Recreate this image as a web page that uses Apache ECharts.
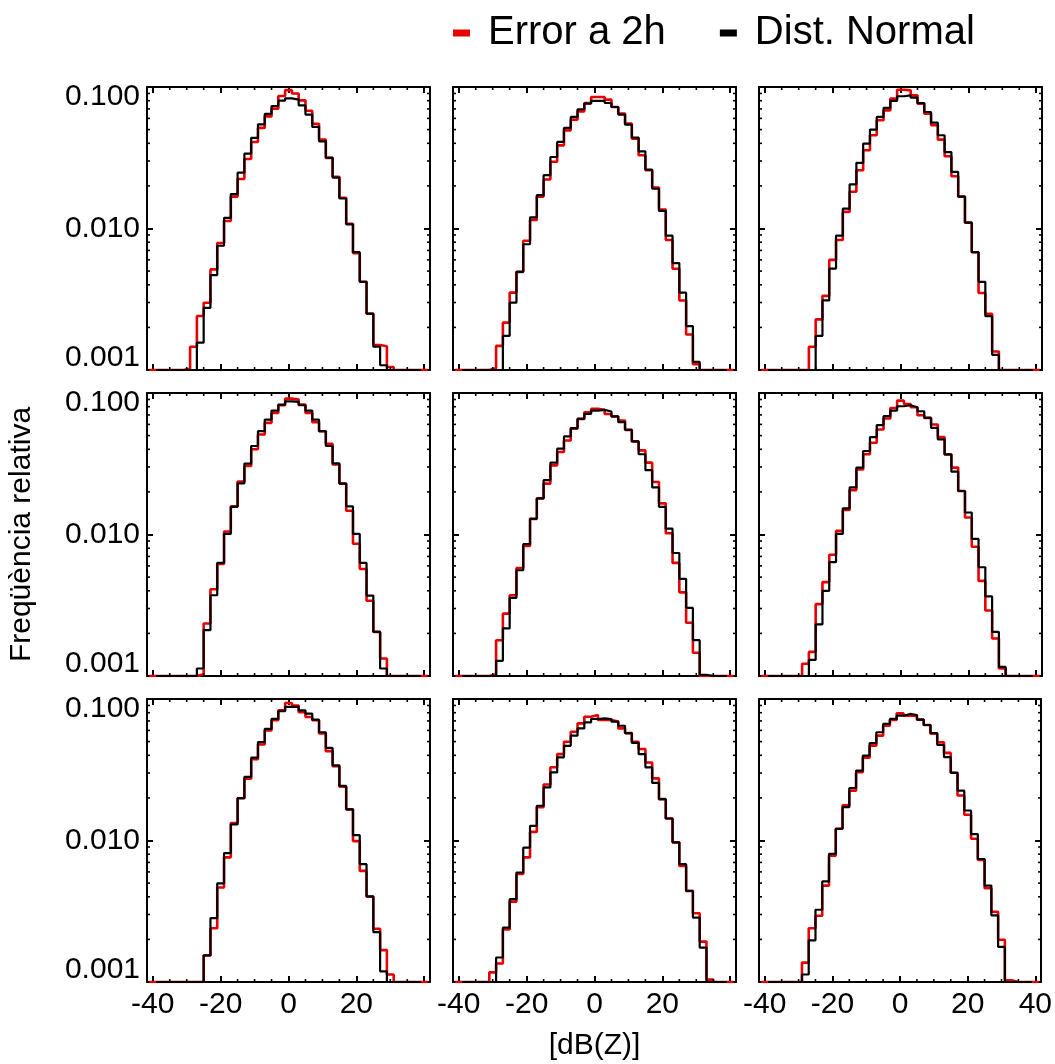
<!DOCTYPE html>
<html><head><meta charset="utf-8">
<script src="https://cdn.jsdelivr.net/npm/echarts@6/dist/echarts.min.js"></script>
<style>html,body{margin:0;padding:0;background:#fff}#c{width:1055px;height:1064px}</style>
</head><body><div id="c"></div>
<script>
// ---- data ----
const binCenters = [-40,-38,-36,-34,-32,-30,-28,-26,-24,-22,-20,-18,-16,-14,-12,-10,-8,-6,-4,-2,0,2,4,6,8,10,12,14,16,18,20,22,24,26,28,30,32,34,36,38,40];
const binWidth = 2;

const errorP1  = [0,0,0,0,0,0.00102,0.00146,0.00241,0.00299,0.00514,0.0079,0.0113,0.0168,0.0224,0.031,0.0409,0.0514,0.062,0.0703,0.0864,0.095,0.090,0.0805,0.068,0.055,0.0425,0.0315,0.0232,0.0165,0.0108,0.0067,0.0042,0.0025,0.0015,0.00147,0.00105,0,0,0,0,0];
const normalP1 = [null,0,0,0,0,0,0,0.00156,0.00275,0.00469,0.00755,0.0119,0.0175,0.0248,0.0338,0.0437,0.0545,0.0645,0.0734,0.080,0.0832,0.0815,0.0742,0.0638,0.0522,0.0413,0.0317,0.0229,0.0163,0.0107,0.0068,0.0042,0.0025,0.00146,0.00108,0,0,0,0,0,null];

const errorP2  = [0,0,0,0,0,0.00103,0.00148,0.00216,0.00352,0.00494,0.0082,0.0115,0.0168,0.0222,0.0296,0.0387,0.0494,0.0588,0.0673,0.0771,0.085,0.085,0.0814,0.0722,0.0648,0.0551,0.0432,0.0329,0.0258,0.0195,0.0136,0.0083,0.0052,0.0031,0.00178,0.0011,0,0,0,0,0];
const normalP2 = [null,0,0,0,0,0,0,0.00174,0.00299,0.00494,0.00774,0.012,0.0172,0.0238,0.032,0.0409,0.0514,0.0614,0.0696,0.0763,0.0797,0.0797,0.0771,0.0722,0.0638,0.0542,0.0439,0.0351,0.0261,0.0191,0.0133,0.0089,0.0057,0.00352,0.00204,0.00114,0,0,0,0,null];

const errorP3  = [0,0,0,0,0,0,0,0.00146,0.00228,0.00334,0.006,0.0083,0.0131,0.0182,0.0258,0.0357,0.0456,0.0582,0.0684,0.0827,0.0957,0.0947,0.0873,0.0763,0.0648,0.0537,0.0425,0.0324,0.0234,0.0168,0.011,0.0068,0.0035,0.0025,0.00135,0,0,0,0,0,0];
const normalP3 = [null,0,0,0,0,0,0,0,0.00174,0.0031,0.00521,0.0089,0.0138,0.0205,0.0291,0.0398,0.05,0.0614,0.0711,0.0797,0.086,0.0873,0.0841,0.0771,0.0666,0.056,0.0456,0.0347,0.0251,0.0168,0.011,0.0068,0.0042,0.0024,0.00128,0,0,0,0,0,null];

const errorP4  = [0,0,0,0,0,0,0,0.00103,0.00235,0.0041,0.0062,0.0105,0.0158,0.0237,0.0305,0.04,0.0509,0.0615,0.0723,0.0819,0.0912,0.0898,0.0828,0.0723,0.0622,0.0537,0.0438,0.0313,0.0229,0.0147,0.0086,0.0057,0.0034,0.00205,0.00133,0,0,0,0,0,0];
const normalP4 = [null,0,0,0,0,0,0,0.00113,0.00211,0.00372,0.00631,0.0101,0.0157,0.023,0.0317,0.0422,0.0537,0.0649,0.0751,0.0828,0.0873,0.0865,0.0819,0.0751,0.0649,0.0537,0.0422,0.0318,0.0229,0.0158,0.0101,0.0063,0.0037,0.00205,0.00113,0,0,0,0,0,null];

const errorP5  = [0,0,0,0,0,0.00103,0.00179,0.00276,0.00372,0.0058,0.0083,0.0129,0.018,0.0229,0.0308,0.0383,0.0462,0.0559,0.0656,0.0731,0.0772,0.076,0.0711,0.0683,0.0639,0.0549,0.0455,0.0393,0.0322,0.0235,0.0166,0.0102,0.0063,0.0039,0.00238,0.00146,0.001,0,0,0,0];
const normalP5 = [null,0,0,0,0,0,0.00128,0.00217,0.00357,0.00559,0.00855,0.0129,0.018,0.0242,0.0322,0.0404,0.0493,0.0565,0.0656,0.0711,0.0751,0.076,0.074,0.0683,0.0622,0.0549,0.0455,0.0369,0.0285,0.0215,0.0157,0.011,0.0074,0.00486,0.00303,0.00179,0.00102,0,0,0,null];

const errorP6  = [0,0,0,0,0,0,0.00122,0.00148,0.00322,0.00461,0.0072,0.0106,0.0149,0.0206,0.0288,0.0369,0.0445,0.0552,0.066,0.0784,0.0883,0.0837,0.0793,0.0696,0.0667,0.0599,0.0488,0.0368,0.0297,0.0203,0.0132,0.0082,0.0047,0.0029,0.00184,0.00113,0,0,0,0,0];
const normalP6 = [null,0,0,0,0,0,0,0.0013,0.00232,0.004,0.00637,0.0101,0.0153,0.0215,0.0297,0.0389,0.0488,0.0593,0.0686,0.0751,0.0806,0.0819,0.0793,0.0743,0.0667,0.0567,0.047,0.0368,0.0278,0.0203,0.0143,0.0093,0.00587,0.00365,0.00205,0.00116,0,0,0,0,null];

const errorP7  = [0,0,0,0,0,0,0,0,0.00154,0.0024,0.00465,0.0076,0.0133,0.0199,0.0273,0.0375,0.0477,0.06,0.0708,0.0832,0.0937,0.0898,0.0806,0.0747,0.0708,0.057,0.0428,0.0335,0.024,0.0166,0.0099,0.0061,0.004,0.00238,0.00168,0.00113,0,0,0,0,0];
const normalP7 = [null,0,0,0,0,0,0,0,0.00154,0.00283,0.00498,0.00815,0.013,0.0199,0.0282,0.0385,0.0496,0.0615,0.0723,0.0819,0.0879,0.0879,0.0832,0.0788,0.0714,0.0582,0.0451,0.034,0.0243,0.0166,0.0109,0.0068,0.00403,0.00225,0.00119,0,0,0,0,0,null];

const errorP8  = [0,0,0,0,0,0.00117,0.00135,0.00235,0.0037,0.0058,0.0076,0.0115,0.0172,0.0249,0.0329,0.0408,0.0499,0.0587,0.0673,0.075,0.0771,0.071,0.071,0.0692,0.062,0.0574,0.0499,0.0443,0.0356,0.0275,0.0196,0.0143,0.0097,0.0066,0.0044,0.00306,0.00193,0.00104,0,0,0];
const normalP8 = [null,0,0,0,0,0,0.00149,0.00242,0.00385,0.00594,0.0089,0.0127,0.0176,0.0237,0.0303,0.0387,0.0467,0.0551,0.062,0.0684,0.0722,0.073,0.0722,0.0692,0.0647,0.0574,0.0489,0.0408,0.0329,0.0255,0.0196,0.0143,0.0097,0.0068,0.0044,0.00285,0.00175,0,0,0,null];

const errorP9  = [0,0,0,0,0,0,0.00137,0.0024,0.00294,0.0048,0.0078,0.0121,0.0177,0.0225,0.0304,0.0385,0.0468,0.0551,0.0648,0.071,0.0792,0.0763,0.0763,0.0715,0.0655,0.0568,0.0494,0.0416,0.0301,0.0208,0.0152,0.0103,0.0073,0.0046,0.00314,0.00199,0.00103,0,0,0,0];
const normalP9 = [null,0,0,0,0,0,0.00113,0.00197,0.00324,0.00514,0.00805,0.0121,0.0172,0.0235,0.0312,0.0398,0.0487,0.0582,0.0667,0.0723,0.0762,0.0784,0.0771,0.0715,0.0655,0.0575,0.0473,0.0388,0.0301,0.0225,0.0163,0.0111,0.0074,0.0048,0.00296,0.00177,0,0,0,0,null];

const panelsError  = [errorP1, errorP2, errorP3, errorP4, errorP5, errorP6, errorP7, errorP8, errorP9];
const panelsNormal = [normalP1, normalP2, normalP3, normalP4, normalP5, normalP6, normalP7, normalP8, normalP9];

const xMin = -41.7, xMax = 41.7;
const yMin = 0.001, yMax = 0.1;
const xTickMajor = [-40, -20, 0, 20, 40];
const xTickMinor = [-35, -30, -25, -15, -10, -5, 5, 10, 15, 25, 30, 35];
const yTickMinor = [0.002,0.003,0.004,0.005,0.006,0.007,0.008,0.009,0.02,0.03,0.04,0.05,0.06,0.07,0.08,0.09];
const legendNames = ['Error a 2h', 'Dist. Normal'];
const seriesColors = ['#e60000', '#000000'];
const xAxisTitle = '[dB(Z)]';
const yAxisTitle = 'Freqüència relativa';

// ---- layout ----
const FONT = "'Liberation Sans', Arial, Helvetica, sans-serif";
const LABEL_SIZE = 30;
const colLeft = [147, 453, 759];
const rowTop = [87, 393, 699];
const SIZE = 283;

function stepPoints(vals) {
  const pts = [];
  vals.forEach((v, i) => {
    if (v === null) return;
    const y = v > 0 ? v : yMin;
    pts.push([binCenters[i] - binWidth / 2, y], [binCenters[i] + binWidth / 2, y]);
  });
  return pts;
}

const grid = [], xAxis = [], yAxis = [], series = [];
for (let g = 0; g < 9; g++) {
  const r = Math.floor(g / 3), c = g % 3;
  grid.push({ left: colLeft[c], top: rowTop[r], width: SIZE, height: SIZE, containLabel: false });
  const axisLine = { show: true, onZero: false, lineStyle: { color: '#000', width: 2 } };
  const majorTick = { show: true, inside: true, length: 6, lineStyle: { color: '#000', width: 2 } };
  // bottom x
  xAxis.push({
    gridIndex: g, type: 'value', position: 'bottom', min: xMin, max: xMax,
    axisLine, splitLine: { show: false },
    axisTick: Object.assign({ customValues: xTickMajor }, majorTick),
    axisLabel: {
      show: r === 2,
      customValues: c === 2 ? xTickMajor : xTickMajor.slice(0, 4),
      color: '#000', fontFamily: FONT, fontSize: LABEL_SIZE, margin: 8,
      formatter: v => String(Math.round(v))
    },
    name: (g === 7) ? xAxisTitle : '',
    nameLocation: 'middle', nameGap: 49,
    nameTextStyle: { color: '#000', fontFamily: FONT, fontSize: LABEL_SIZE }
  });
  // top x
  xAxis.push({
    gridIndex: g, type: 'value', position: 'top', min: xMin, max: xMax,
    axisLine, splitLine: { show: false },
    axisTick: Object.assign({ customValues: xTickMajor }, majorTick),
    axisLabel: { show: false }
  });
  // left y (log)
  yAxis.push({
    gridIndex: g, type: 'log', logBase: 10, position: 'left', min: yMin, max: yMax,
    axisLine, splitLine: { show: false }, minorTick: { show: false },
    axisTick: majorTick,
    axisLabel: {
      show: c === 0, color: '#000', fontFamily: FONT, fontSize: LABEL_SIZE, margin: 7,
      formatter: v => {
        const s = Number(v).toFixed(3);
        if (v > 0.05) return '{t|' + s + '}';
        if (v < 0.002) return '{b|' + s + '}';
        return s;
      },
      rich: {
        t: { fontFamily: FONT, fontSize: LABEL_SIZE, color: '#000', padding: [20, 0, 0, 0] },
        b: { fontFamily: FONT, fontSize: LABEL_SIZE, color: '#000', padding: [0, 0, 24, 0] }
      }
    },
    name: (g === 3) ? yAxisTitle : '',
    nameLocation: 'middle', nameRotate: 90, nameGap: 110,
    nameTextStyle: { color: '#000', fontFamily: FONT, fontSize: LABEL_SIZE }
  });
  // right y (log)
  yAxis.push({
    gridIndex: g, type: 'log', logBase: 10, position: 'right', min: yMin, max: yMax,
    axisLine, splitLine: { show: false }, axisTick: majorTick, axisLabel: { show: false }
  });

  const xi = 2 * g, yi = 2 * g;
  series.push({
    name: legendNames[0], type: 'line', xAxisIndex: xi, yAxisIndex: yi,
    data: stepPoints(panelsError[g]), showSymbol: false, symbol: 'none',
    lineStyle: { color: seriesColors[0], width: 2.6 }, itemStyle: { color: seriesColors[0] },
    silent: true, animation: false, z: 2
  });
  series.push({
    name: legendNames[1], type: 'line', xAxisIndex: xi, yAxisIndex: yi,
    data: stepPoints(panelsNormal[g]), showSymbol: false, symbol: 'none',
    lineStyle: { color: seriesColors[1], width: 2.2 }, itemStyle: { color: seriesColors[1] },
    silent: true, animation: false, z: 3
  });
  // minor ticks on all four sides
  const minorData = xTickMinor.map(v => [0, v, 0.01]).concat(yTickMinor.map(v => [1, 0, v]));
  series.push({
    type: 'custom', xAxisIndex: xi, yAxisIndex: yi, silent: true, animation: false, z: 4,
    encode: { x: 1, y: 2 }, data: minorData, clip: false,
    renderItem: (params, api) => {
      const cs = params.coordSys;
      const kind = api.value(0);
      const st = { stroke: '#000', lineWidth: 1.6 };
      const L = 3;
      if (kind === 0) {
        const px = api.coord([api.value(1), yMax])[0];
        return { type: 'group', children: [
          { type: 'line', shape: { x1: px, y1: cs.y + cs.height, x2: px, y2: cs.y + cs.height - L }, style: st },
          { type: 'line', shape: { x1: px, y1: cs.y, x2: px, y2: cs.y + L }, style: st }
        ] };
      }
      const py = api.coord([0, api.value(2)])[1];
      return { type: 'group', children: [
        { type: 'line', shape: { x1: cs.x, y1: py, x2: cs.x + L, y2: py }, style: st },
        { type: 'line', shape: { x1: cs.x + cs.width, y1: py, x2: cs.x + cs.width - L, y2: py }, style: st }
      ] };
    }
  });
}

const chart = echarts.init(document.getElementById('c'), null, { renderer: 'canvas' });
chart.setOption({
  backgroundColor: '#fff',
  animation: false,
  legend: {
    data: legendNames, top: 8, left: 448, icon: 'rect', itemWidth: 17, itemHeight: 7, itemGap: 54,
    textStyle: { color: '#000', fontFamily: FONT, fontSize: 40, padding: [0, 0, 0, 13] }
  },
  grid, xAxis, yAxis, series
});
</script>
</body></html>
